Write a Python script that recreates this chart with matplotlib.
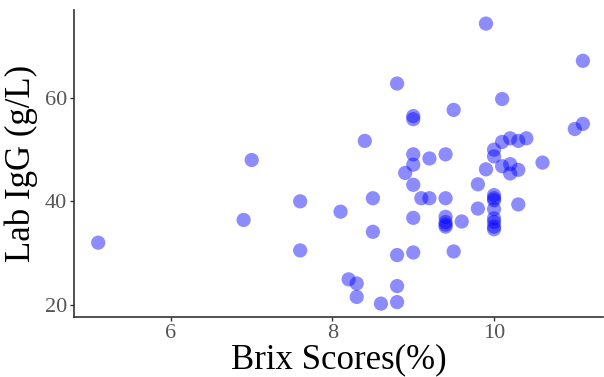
import matplotlib.pyplot as plt

# Brix refractometer readings (%) and matching lab IgG concentrations (g/L)
brix = [5.1, 7.0, 6.9, 7.6, 7.6, 8.1,
        9.9, 11.1, 8.8, 10.1, 9.5, 9.0, 9.0, 11.1, 11.0,
        8.4, 10.1, 10.2, 10.3, 10.4, 10.0, 10.0,
        9.0, 9.2, 9.4, 9.0, 8.9, 10.1, 10.2, 10.2, 10.3, 10.6, 9.9,
        9.8, 9.0, 8.5, 9.1, 9.2, 9.4, 10.0, 10.0, 10.0, 10.3,
        9.8, 10.0, 9.0, 9.4, 9.4, 9.4, 9.4, 9.6,
        10.0, 10.0, 10.0, 10.0, 8.5,
        8.8, 9.0, 9.5, 8.2, 8.3, 8.3, 8.8, 8.6, 8.8]
igg = [32.0, 48.0, 36.4, 40.0, 30.5, 38.0,
       74.4, 67.2, 62.8, 59.8, 57.7, 56.5, 55.9, 55.0, 54.0,
       51.7, 51.5, 52.2, 51.7, 52.2, 50.0, 48.7,
       49.1, 48.3, 49.1, 47.1, 45.5, 46.8, 47.2, 45.4, 46.1, 47.5, 46.2,
       43.3, 43.2, 40.6, 40.6, 40.6, 40.6, 41.2, 40.6, 40.2, 39.4,
       38.6, 38.5, 36.8, 37.0, 36.0, 35.5, 35.1, 36.1,
       36.7, 36.0, 35.1, 34.6, 34.1,
       29.6, 30.1, 30.3, 24.9, 24.1, 21.5, 23.6, 20.2, 20.5]

plt.rcParams['font.family'] = ['Liberation Serif', 'DejaVu Serif']

fig = plt.figure(figsize=(6.04, 3.77), dpi=100)
ax = fig.add_axes([0.1225, 0.159, 0.876, 0.814])

ax.scatter(brix, igg, s=105, color='#0000ff', alpha=0.45, edgecolors='none')

ax.set_xlim(4.8, 11.35)
ax.set_ylim(17.6, 77.0)
ax.set_xticks([6, 8, 10])
ax.set_yticks([20, 40, 60])

for side in ['top', 'right']:
    ax.spines[side].set_visible(False)
for side in ['left', 'bottom']:
    ax.spines[side].set_color('#333333')
    ax.spines[side].set_linewidth(1.2)

ax.tick_params(axis='both', colors='#333333', labelcolor='#555555',
               labelsize=16, length=3, width=1, pad=2)

ax.set_xlabel('Brix Scores(%)', fontsize=25, labelpad=0)
ax.set_ylabel('Lab IgG (g/L)', fontsize=25, labelpad=5)

plt.savefig('out.png', dpi=100)
plt.close()
